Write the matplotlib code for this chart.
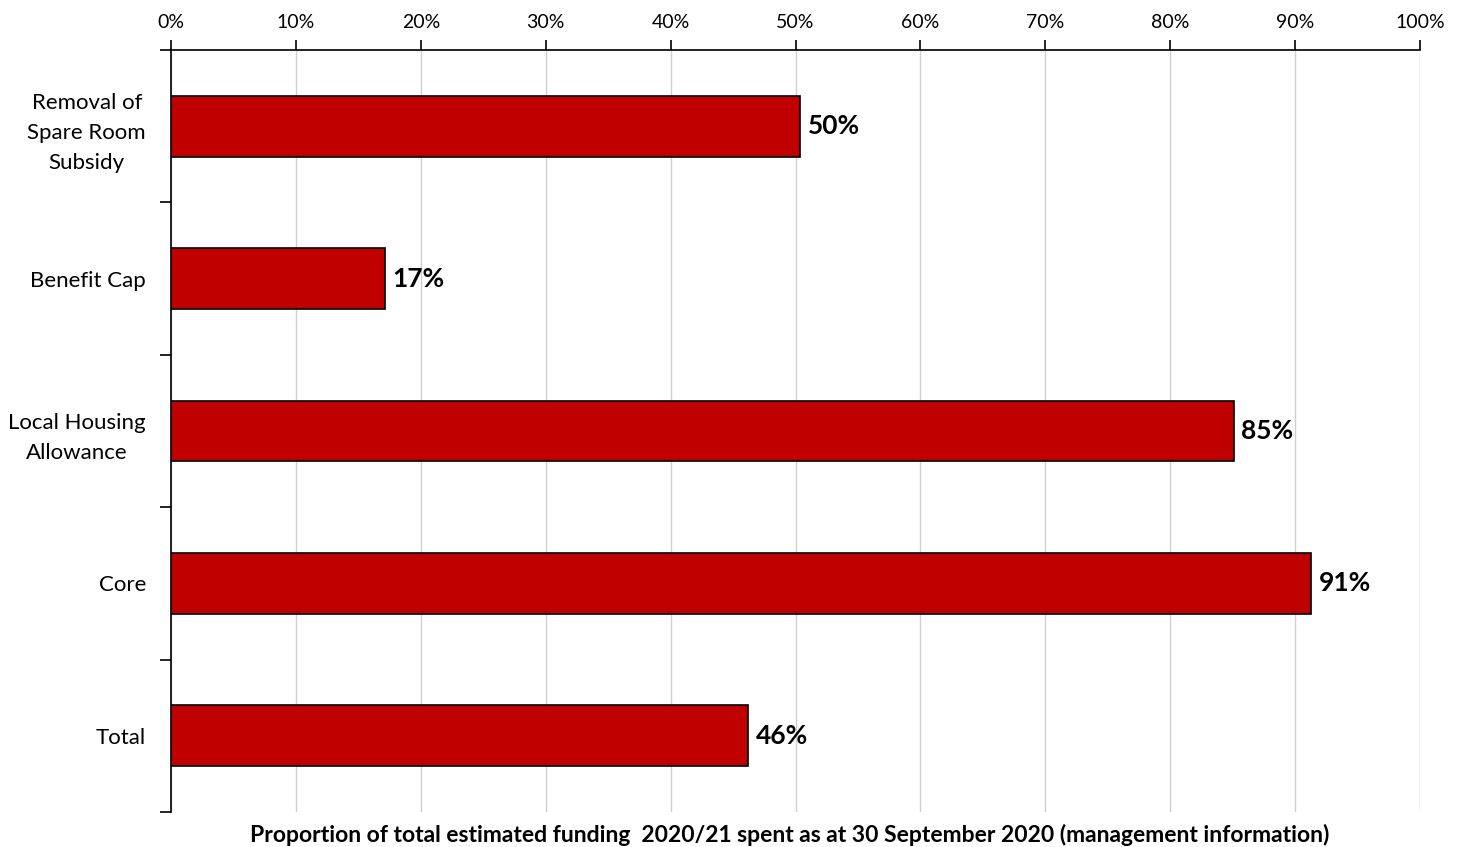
import numpy as np
import matplotlib
matplotlib.use('Agg')
from matplotlib import pyplot as plt
from matplotlib.ticker import FuncFormatter

categories = ['Removal of\nSpare Room\nSubsidy', 'Benefit Cap',
              'Local Housing\nAllowance', 'Core', 'Total']
values = [50.4, 17.1, 85.1, 91.3, 46.2]
labels = ['50%', '17%', '85%', '91%', '46%']
xticks = list(range(0, 101, 10))

plt.rcParams['font.family'] = ['Lato', 'DejaVu Sans']

fig = plt.figure(figsize=(14.61, 8.47), dpi=100)
ax = fig.add_axes([171 / 1461, 1 - 812 / 847, 1249 / 1461, 762 / 847])

y = np.arange(len(categories))
ax.barh(y, values, height=0.4, color='#c00000', edgecolor='black',
        linewidth=1.2, zorder=3)
for yi, v, lab in zip(y, values, labels):
    ax.text(v + 0.6, yi, lab, va='center', ha='left', fontsize=19,
            fontweight='bold', zorder=4)

ax.set_xlim(0, 100)
ax.set_ylim(len(categories) - 0.5, -0.5)
ax.set_xticks(xticks)
ax.xaxis.set_major_formatter(FuncFormatter(lambda v, p: '%d%%' % v))
ax.xaxis.tick_top()
ax.tick_params(axis='x', length=7, width=1.2, labelsize=14, pad=7)
ax.grid(axis='x', color='#d0d0d0', linewidth=1, zorder=0)

ax.set_yticks(y)
ax.set_yticklabels(categories, fontsize=16, linespacing=1.6)
for t in ax.get_yticklabels():
    t.set_multialignment('center')
ax.set_yticks(np.arange(-0.5, len(categories)), minor=True)
ax.tick_params(axis='y', which='major', length=0, pad=18)
ax.tick_params(axis='y', which='minor', length=8, width=1.2)

for s in ['right', 'bottom']:
    ax.spines[s].set_visible(False)
for s in ['top', 'left']:
    ax.spines[s].set_linewidth(1.2)

fig.text((171 + 1420) / 2 / 1461 - 0.004, 1 - 835 / 847,
         'Proportion of total estimated funding  2020/21 spent as at 30 September 2020 (management information)',
         ha='center', va='center', fontsize=16.5, fontweight='bold')

fig.savefig('out.png', dpi=100)
